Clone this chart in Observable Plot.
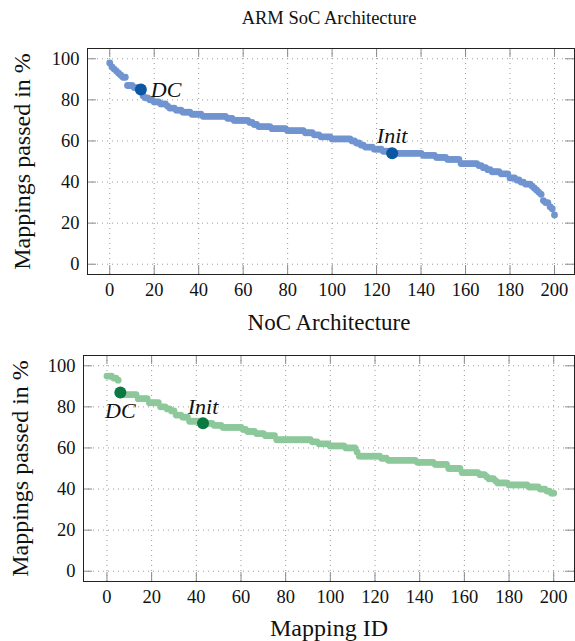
<!DOCTYPE html>
<html>
<head>
<meta charset="utf-8">
<script src="https://cdn.jsdelivr.net/npm/d3@7"></script>
<script src="https://cdn.jsdelivr.net/npm/@observablehq/plot@0.6"></script>
<style>
  html, body { margin: 0; padding: 0; background: #fff; }
  body { width: 575px; height: 641px; position: relative; overflow: hidden; font-family: "Liberation Serif", serif; }
  .title { position: absolute; left: 84px; width: 490px; text-align: center; color: #111; line-height: 36px; height: 36px; }
  .chart { position: absolute; left: 0; }
</style>
</head>
<body>
<div class="title" id="t1" style="top:0px; font-size:18.5px">ARM SoC Architecture</div>
<div class="chart" id="c1" style="top:30px"></div>
<div class="title" id="t2" style="top:305px; font-size:23px">NoC Architecture</div>
<div class="chart" id="c2" style="top:335px"></div>
<script>
// ---- data ----
const xTicks = [0, 20, 40, 60, 80, 100, 120, 140, 160, 180, 200];
const yTicks = [0, 20, 40, 60, 80, 100];
const mappingIds = d3.range(0, 201);

const armPassed = [
  98,96,95,94,93,92,91,91,87,87,
  87,86,86,86,85,82,81,81,80,80,
  79,79,79,78,78,78,77,76,76,76,
  75,75,75,74,74,74,74,73,73,73,
  73,73,72,72,72,72,72,72,72,72,
  72,72,72,71,71,71,70,70,70,70,
  70,70,70,69,69,68,68,67,67,67,
  67,67,67,66,66,66,66,66,66,66,
  65,65,65,65,65,65,65,65,64,64,
  64,64,63,63,63,62,62,62,62,62,
  61,61,61,61,61,61,61,61,61,60,
  60,59,59,58,58,57,57,57,57,56,
  56,56,56,55,55,55,55,54,54,54,
  54,54,54,54,54,54,54,54,54,54,
  54,53,53,53,53,53,53,52,52,52,
  52,52,51,51,51,51,51,51,49,49,
  49,49,49,49,49,49,48,48,47,47,
  46,46,45,45,45,45,44,44,44,44,
  42,42,42,41,41,40,40,39,39,39,
  38,37,36,35,34,31,30,30,28,27,
  24
];

const nocPassed = [
  95,95,95,94,94,93,87,86,86,86,
  86,86,86,86,84,84,84,84,84,82,
  82,82,82,82,80,80,80,79,79,78,
  78,76,76,76,75,75,75,73,73,73,
  73,73,73,72,72,72,72,72,71,71,
  71,71,70,70,70,70,70,70,70,70,
  70,69,69,68,68,68,68,67,67,67,
  67,66,66,66,66,66,64,64,64,64,
  64,64,64,64,64,64,64,64,64,64,
  64,64,63,63,63,62,62,62,62,62,
  61,61,61,61,61,61,61,60,60,60,
  60,60,58,56,56,56,56,56,56,56,
  56,56,56,55,55,55,54,54,54,54,
  54,54,54,54,54,54,54,54,54,53,
  53,53,53,53,53,53,53,52,52,52,
  52,52,52,50,50,50,50,50,50,48,
  48,48,48,48,48,48,48,47,47,47,
  46,45,45,45,44,43,43,43,43,43,
  42,42,42,42,42,42,42,42,42,41,
  41,41,41,41,40,40,40,39,39,38,
  38
];

const armHighlightNames = ["DC", "Init"];
const armHighlightIds = [14, 127];
const armHighlightValues = [85, 54];

const nocHighlightNames = ["DC", "Init"];
const nocHighlightIds = [6, 43];
const nocHighlightValues = [87, 72];

const yAxisLabel = "Mappings passed in %";
const xAxisLabel = "Mapping ID";

// ---- chart builder ----
function makeChart(cfg) {
  const pts = mappingIds.map((id, i) => ({id, v: cfg.values[i]}));
  const hi = cfg.hiNames.map((name, i) => ({name, id: cfg.hiIds[i], v: cfg.hiValues[i]}));
  const [x0, x1] = cfg.xDomain, [y0, y1] = cfg.yDomain;
  const plotW = 575 - cfg.marginLeft - cfg.marginRight;
  const plotH = cfg.height - cfg.marginTop - cfg.marginBottom;
  const tx = 9 * (x1 - x0) / plotW, ty = 9 * (y1 - y0) / plotH;
  const gridStyle = {stroke: "#9a9a9a", strokeOpacity: 1, strokeWidth: 1, strokeDasharray: "1,4"};
  const tickStyle = {stroke: "#8a8a8a", strokeWidth: 1};
  const labelStyle = {fontSize: 22, fontStyle: "italic", fill: "#111"};
  const marks = [
    Plot.gridX(xTicks, gridStyle),
    Plot.gridY(yTicks, gridStyle),
    Plot.ruleX(xTicks, {x: d => d, y1: y0, y2: y0 + ty, ...tickStyle}),
    Plot.ruleX(xTicks, {x: d => d, y1: y1, y2: y1 - ty, ...tickStyle}),
    Plot.ruleY(yTicks, {y: d => d, x1: x0, x2: x0 + tx, ...tickStyle}),
    Plot.ruleY(yTicks, {y: d => d, x1: x1, x2: x1 - tx, ...tickStyle}),
    Plot.axisX({ticks: xTicks, tickSize: 0, tickPadding: 8, fontSize: 18.5, label: null, fill: "#111"}),
    Plot.axisY({ticks: yTicks, tickSize: 0, tickPadding: 8, fontSize: 18.5, label: null, fill: "#111"}),
    Plot.frame({stroke: "#222", strokeWidth: 1}),
    Plot.dot(pts, {x: "id", y: "v", r: 3.4, fill: cfg.color}),
    Plot.dot(hi, {x: "id", y: "v", r: 6, fill: cfg.hiColor}),
    Plot.text(hi.filter(d => d.name === "DC"), {x: "id", y: "v", text: "name", dx: cfg.dcDx, dy: cfg.dcDy, textAnchor: cfg.dcAnchor, lineAnchor: "middle", ...labelStyle}),
    Plot.text(hi.filter(d => d.name === "Init"), {x: "id", y: "v", text: "name", dx: 0, dy: cfg.initDy, textAnchor: "middle", lineAnchor: "middle", ...labelStyle}),
    Plot.text([yAxisLabel], {frameAnchor: "left", dx: cfg.yLabelDx, rotate: -90, textAnchor: "middle", lineAnchor: "middle", fontSize: 24, fill: "#111"})
  ];
  if (cfg.xLabel) {
    marks.push(Plot.text([cfg.xLabel], {frameAnchor: "bottom", dy: 47, textAnchor: "middle", lineAnchor: "middle", fontSize: 24, fill: "#111"}));
  }
  return Plot.plot({
    width: 575,
    height: cfg.height,
    marginLeft: cfg.marginLeft,
    marginRight: cfg.marginRight,
    marginTop: cfg.marginTop,
    marginBottom: cfg.marginBottom,
    style: {fontFamily: "'Liberation Serif', serif", background: "transparent", overflow: "visible"},
    x: {domain: cfg.xDomain},
    y: {domain: cfg.yDomain},
    marks
  });
}

document.getElementById("c1").appendChild(makeChart({
  values: armPassed,
  hiNames: armHighlightNames, hiIds: armHighlightIds, hiValues: armHighlightValues,
  color: "#7094d0", hiColor: "#0b57a3",
  height: 270, marginTop: 18, marginBottom: 26, marginLeft: 87, marginRight: 1,
  xDomain: [-10, 209], yDomain: [-5, 105],
  dcDx: 10, dcDy: 0, dcAnchor: "start", initDy: -17,
  yLabelDx: -65
}));

document.getElementById("c2").appendChild(makeChart({
  values: nocPassed,
  hiNames: nocHighlightNames, hiIds: nocHighlightIds, hiValues: nocHighlightValues,
  color: "#8dc89b", hiColor: "#0a7a40",
  height: 306, marginTop: 20, marginBottom: 60, marginLeft: 83, marginRight: 1,
  xDomain: [-10.5, 209.3], yDomain: [-5, 105],
  dcDx: 0, dcDy: 18, dcAnchor: "middle", initDy: -16,
  yLabelDx: -63,
  xLabel: xAxisLabel
}));
</script>
</body>
</html>
